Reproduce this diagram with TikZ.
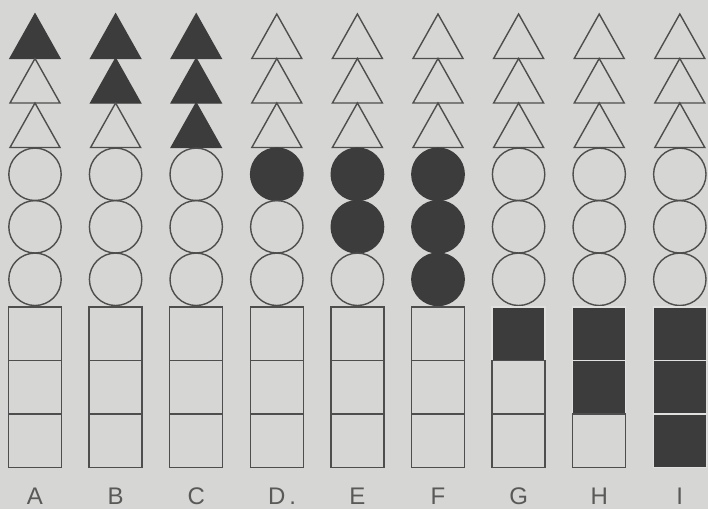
\documentclass[tikz,border=0pt]{standalone}
\usepackage{fontspec}
\newfontfamily\lblfont{Liberation Sans}
\usetikzlibrary{calc}
\definecolor{paper}{HTML}{D6D6D4}
\definecolor{ink}{HTML}{3C3C3C}
\definecolor{pen}{HTML}{4E4E4E}
\tikzset{
  shape0/.style={draw=pen,line width=1.4pt,line join=miter},
  shape1/.style={draw=ink,line width=1.4pt,fill=ink,line join=miter},
  box0/.style={draw=pen,line width=1.4pt},
  box1/.style={draw=paper!75!white,line width=1.4pt,fill=ink},
  collabel/.style={text=ink!85!white,font=\lblfont\fontsize{24}{26}\selectfont,anchor=base,inner sep=0pt}
}

\begin{document}
\begin{tikzpicture}[x=1pt,y=-1pt]
  \fill[paper] (0,0) rectangle (708,509);
  \useasboundingbox (0,0) rectangle (708,509);
  \foreach \col [count=\n from 0] in {A,B,C,D\rlap{\,.},E,F,G,H,I} {
    \pgfmathsetmacro\cx{35+80.6*\n}
    % triangles
    \foreach \j in {0,1,2} {
      \pgfmathtruncatemacro\t{(\n<3)&&(\j<=\n)}
      \draw[shape\t] (\cx,14+44.5*\j) -- ++(25,44.5) -- ++(-50,0) -- cycle;
    }
    % circles
    \foreach \j in {0,1,2} {
      \pgfmathtruncatemacro\t{(\n>2)&&(\n<6)&&(\j<=\n-3)}
      \draw[shape\t] (\cx,174.3+52.5*\j) circle (26.2);
    }
    % squares
    \foreach \j in {0,1,2} {
      \pgfmathtruncatemacro\t{(\n>5)&&(\j<=\n-6)}
      \draw[box\t] (\cx-26.5,307+53.4*\j) rectangle ++(53,53.4);
    }
    \node[collabel] (lbl\n) at (\cx,504) {\col};
  }
\end{tikzpicture}
\end{document}
